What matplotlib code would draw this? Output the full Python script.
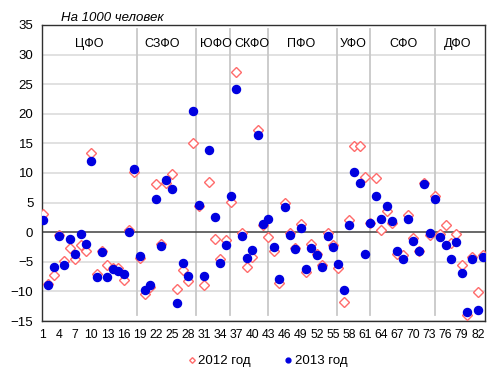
import matplotlib
matplotlib.use("Agg")
import numpy as np
import matplotlib.pyplot as plt

# migration growth per 1000 people, regions 1..83
y2012 = [3.15, -8.7, -7.2, -0.5, -4.8, -2.7, -4.5, -2.1, -3.2, 13.3,
         -7.0, -3.1, -5.5, -6.0, -6.1, -8.0, 0.4, 10.2,
         -4.4, -10.4, -9.3, 8.2, -2.0, 8.3, 9.9, -9.6, -6.4, -8.2, 15.0,
         4.4, -9.0, 8.5, -1.2, -4.6, -1.3,
         5.1, 27.0, -0.1, -5.9, -4.2, 17.2, 1.3,
         -0.85, -3.1, -8.6, 5.0, -0.1, -2.7, 1.4, -6.8, -2.0, -3.6, -5.6, -0.1, -2.1, -6.0,
         -11.8, 2.0, 14.6, 14.5, 9.3, 1.5,
         9.1, 0.4, 3.5, 1.5, -3.7, -3.8, 2.85, -1.0, -3.1, 8.35, -0.55, 6.1,
         -0.3, 1.3, -1.85, -0.35, -5.6, -14.0, -4.2, -10.1, -3.9]
y2013 = [2.0, -8.9, -5.95, -0.65, -5.6, -1.15, -3.75, -0.3, -1.95, 12.0,
         -7.6, -3.35, -7.55, -6.2, -6.55, -7.1, 0.0, 10.7,
         -3.95, -9.75, -8.95, 5.6, -2.3, 8.8, 7.3, -12.0, -5.2, -7.4, 20.4,
         4.6, -7.4, 13.85, 2.6, -5.25, -2.1,
         6.1, 24.2, -0.6, -4.3, -2.95, 16.5, 1.35,
         2.15, -2.45, -7.9, 4.3, -0.5, -2.8, 0.65, -6.25, -2.65, -3.8, -5.9, -0.65, -2.55, -5.45,
         -9.7, 1.15, 10.1, 8.35, -3.6, 1.5,
         6.15, 2.15, 4.35, 1.95, -3.25, -4.45, 2.2, -1.5, -3.1, 8.1, -0.05, 5.6,
         -0.75, -2.1, -4.45, -1.65, -6.95, -13.55, -4.6, -13.2, -4.25]
districts = ["ЦФО", "СЗФО", "ЮФО", "СКФО", "ПФО", "УФО", "СФО", "ДФО"]
x = np.arange(1, len(y2013) + 1)

# layout: district label centres and separator lines (in region units)
label_pos = [9.7, 23.2, 33.2, 39.9, 49.0, 58.7, 68.2, 78.3]
sep_pos = [18.6, 29.45, 35.8, 42.95, 55.85, 62.0, 74.0]

plt.rcParams['font.family'] = ['Liberation Sans', 'DejaVu Sans']

fig = plt.figure(figsize=(5.0, 3.84), dpi=100)
ax = fig.add_axes([0.0834, 0.164, 0.8873, 0.771])

for v in range(-15, 36, 5):
    if v != 0:
        ax.axhline(v, color='#d9d9d9', lw=1.1, zorder=0)
ax.axhline(0, color='#404040', lw=1.1, zorder=1)
for s in sep_pos:
    ax.plot([s, s], [-14, 34.3], color='#c8c8c8', lw=1.3, zorder=0)
for name, p in zip(districts, label_pos):
    ax.text(p, 31.8, name, ha='center', va='center', fontsize=9)

ax.plot(x, y2012, 'D', ms=4.8, mfc='white', mec='#ff6b6b', mew=1.0,
        ls='none', label='2012 год', zorder=3)
ax.plot(x, y2013, 'o', ms=5.8, mfc='#0000e0', mec='#0000e0',
        ls='none', label='2013 год', zorder=4)

ax.set_xlim(0.76, 83.4)
ax.set_ylim(-15, 35)
ax.set_yticks(range(-15, 36, 5))
ax.set_xticks(range(1, 84, 3))
ax.tick_params(axis='y', length=0, labelsize=9.5, pad=6)
ax.tick_params(axis='x', length=0, labelsize=8.8, pad=6)
for sp in ax.spines.values():
    sp.set_color('#303030')
    sp.set_linewidth(1.0)

fig.text(0.225, 1 - 18 / 384, "На 1000 человек", style='italic',
         ha='center', va='center', fontsize=9.5)

fig.legend(loc='center', bbox_to_anchor=(0.535, 1 - 361 / 384), ncol=2,
           frameon=False, fontsize=9.5, markerscale=0.6, handlelength=0.6,
           handletextpad=0.2, columnspacing=2.5)

fig.savefig("out.png", dpi=100)
